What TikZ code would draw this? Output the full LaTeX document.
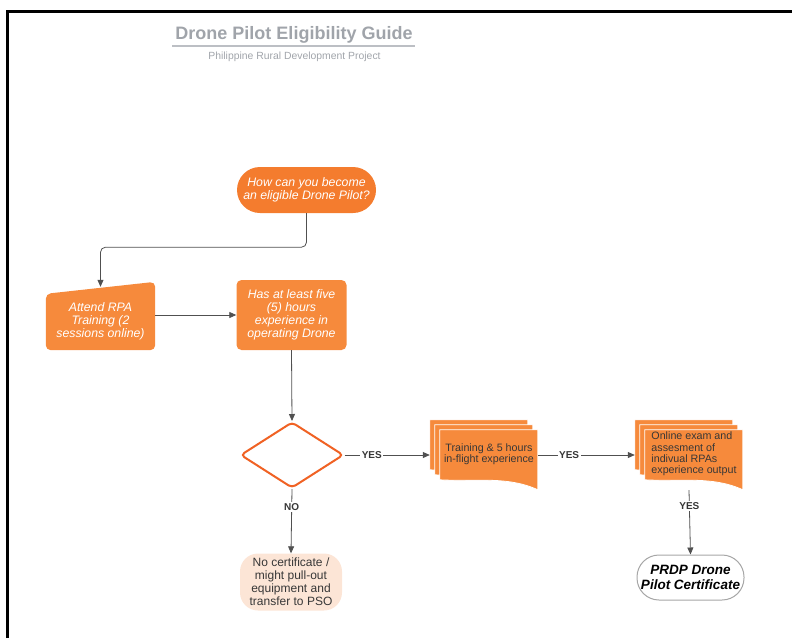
\documentclass[tikz,border=0pt]{standalone}
\usepackage{fontspec}
\setmainfont{Liberation Sans}
\usepackage{xcolor}
\usetikzlibrary{shapes.geometric,backgrounds,arrows.meta}

\definecolor{boxorange}{RGB}{246,138,60}
\definecolor{pillorange}{RGB}{244,124,46}
\definecolor{diaorange}{RGB}{240,98,36}
\definecolor{peach}{RGB}{252,229,214}
\definecolor{titlegray}{RGB}{160,164,170}
\definecolor{linkgray}{RGB}{80,80,80}
\definecolor{textdark}{RGB}{55,55,55}

\tikzset{
  conn/.style={->,linkgray,line width=0.8pt},
  orangebox/.style={fill=boxorange,text=white,font=\fontsize{12.3}{13}\selectfont\itshape,
    align=center,rounded corners=5pt,minimum width=110pt,minimum height=70pt,inner sep=2pt},
  decision/.style={diamond,draw=diaorange,line width=2pt,fill=white,aspect=1.54,
    minimum width=103pt,minimum height=66pt,inner sep=0pt,rounded corners=4pt},
  docnode/.style={minimum width=108pt,minimum height=70pt,inner sep=0pt},
  doctext/.style={text=textdark,font=\fontsize{10.7}{11.4}\selectfont,align=center,inner sep=0pt},
  endpill/.style={fill=peach,text=textdark,font=\fontsize{12}{13}\selectfont,align=center,
    rounded corners=18pt,minimum width=102pt,minimum height=57pt,inner sep=1pt},
  certpill/.style={draw=gray!70,line width=1pt,fill=white,text=black,
    font=\fontsize{13.5}{15}\selectfont\bfseries\itshape,align=center,
    rounded corners=22pt,minimum width=107pt,minimum height=45pt},
  lbl/.style={font=\fontsize{10}{12}\selectfont\bfseries,text=textdark,fill=white,inner sep=1.5pt}
}

% stacked document pages behind a node
\newcommand\docstack[1]{%
  \foreach \o in {0,5,10}{
    \filldraw[fill=boxorange,draw=white,line width=0.8pt]
      ([shift={(\o pt,-\o pt)}]#1.north west) -- ++(98pt,0pt) -- ++(0pt,-60pt)
      .. controls +(-30pt,14pt) and +(35pt,-2pt) .. ++(-98pt,10pt) -- cycle;
  }}

\begin{document}
\begin{tikzpicture}[x=1pt,y=-1pt,>={Triangle[length=7pt,width=6pt]}]
  \useasboundingbox (0,0) rectangle (792,638);
  % Page frame
  \draw[line width=3pt] (7,638) -- (7,11) -- (792,11);
  % Title
  \node[font=\fontsize{18}{20}\selectfont\bfseries,text=titlegray] (title) at (294,35) {Drone Pilot Eligibility Guide};
  \draw[titlegray!70,line width=1.2pt] (172,46) -- (415,46);
  \node[font=\fontsize{10.4}{12}\selectfont,text=titlegray] (subtitle) at (294.5,56.5) {Philippine Rural Development Project};
  % Start
  \node[orangebox,fill=pillorange,rounded corners=23pt,minimum width=139pt,minimum height=46pt] (start) at (306.5,190)
    {How can you become\\an eligible Drone Pilot?};
  % Training and experience
  \node[orangebox,fill=none,minimum width=109pt,minimum height=58pt] (attend) at (100.5,321)
    {Attend RPA\\Training (2\\sessions online)};
  \node[orangebox] (exp) at (291.5,315) {Has at least five\\(5) hours\\experience in\\operating Drone};
  % Decision and documents
  \node[decision] (check) at (292,455) {};
  \node[docnode] (train) at (484,455) {};
  \node[doctext] (traintext) at (489,454.5) {Training \& 5 hours\\in-flight experience};
  \node[docnode] (exam) at (689,455) {};
  \node[doctext,align=left] (examtext) at (694,454) {Online exam and\\assesment of\\indivual RPAs\\experience output};
  % Outcomes
  \node[endpill] (nocert) at (291,582) {No certificate /\\might pull-out\\equipment and\\transfer to PSO};
  \node[certpill] (cert) at (690.5,577.5) {PRDP Drone\\Pilot Certificate};
  % Shapes behind the text
  \begin{scope}[on background layer]
    \fill[boxorange,rounded corners=5pt] (attend.south west) -- ([yshift=-2pt]attend.north west)
      -- ([yshift=10pt]attend.north east) -- (attend.south east) -- cycle;
    \docstack{train}
    \docstack{exam}
  \end{scope}
  % Connectors
  \draw[conn,rounded corners=5pt] (start.south) -- ++(0,34) -| ([yshift=5pt]attend.north);
  \draw[conn] (attend.east |- exp.west) -- (exp.west);
  \draw[conn] (exp.south) -- (check.north);
  \draw[conn] (check.east) -- node[lbl,pos=0.32] {YES} (train.west);
  \draw[conn] (train.east) -- node[lbl,pos=0.32] {YES} (exam.west);
  \draw[conn] (check.south) -- node[lbl,pos=0.28] {NO} (nocert.north);
  \draw[conn] (exam.south) -- node[lbl,pos=0.25] {YES} (cert.north);
\end{tikzpicture}
\end{document}
